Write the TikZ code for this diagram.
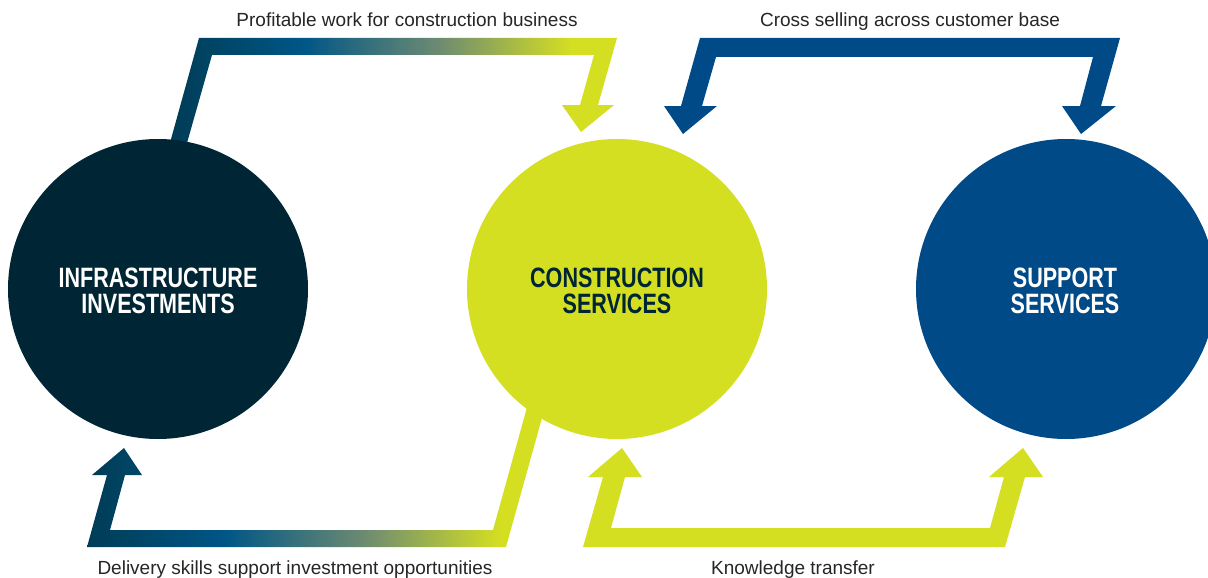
\documentclass[tikz,border=0pt]{standalone}
\usepackage{fontspec}
\setmainfont{Liberation Sans}
\newfontfamily\condbold[FakeStretch=0.77]{Liberation Sans Bold}
\definecolor{cInfra}{HTML}{002534}
\definecolor{cLime}{HTML}{D5DF22}
\definecolor{cNavy}{HTML}{004A87}
\definecolor{cTeal}{HTML}{003C55}
\definecolor{cMid}{HTML}{005686}
\definecolor{cGrey}{HTML}{6C8A72}
\definecolor{cText}{HTML}{262626}
\pgfdeclarehorizontalshading{flow}{100bp}{color(0bp)=(cTeal); color(25bp)=(cTeal); color(40bp)=(cMid); color(55bp)=(cGrey); color(70bp)=(cLime); color(100bp)=(cLime)}
\tikzset{
  hub/.style={circle, minimum size=300pt, inner sep=0pt},
  hubtext/.style={inner sep=0pt, align=center,
    font=\condbold\fontsize{28}{26}\selectfont},
  caption/.style={font=\fontsize{19}{22}\selectfont, text=cText, anchor=base, inner sep=0pt},
  flowarrow/.style={shading=flow, draw=none},
}
\begin{document}
\begin{tikzpicture}[x=1pt,y=-1pt]
\useasboundingbox (0,0) rectangle (1208,578);
\clip (0,0) rectangle (1208,578);
\fill[white] (0,0) rectangle (1208,578);

% top-left gradient arrow: infrastructure -> construction
\shade[flowarrow] (168,150) -- (199,38) -- (617,38) -- (598,105) -- (614,105)
  -- (581,132) -- (562,105) -- (580,105) -- (594,55) -- (212,55) -- (185,150) -- cycle;

% bottom gradient arrow: construction -> infrastructure
\shade[flowarrow] (547,400) -- (506,547) -- (87,547) -- (107,475) -- (92,475)
  -- (124,448) -- (142,475) -- (125,475) -- (110,530) -- (493,530) -- (529,400) -- cycle;

% top-right double arrow (navy)
\fill[cNavy] (681,106) -- (700,38) -- (1120,38) -- (1101,106) -- (1116,106)
  -- (1081,134) -- (1062,106) -- (1080,106) -- (1093,57) -- (716,57)
  -- (702,106) -- (717,106) -- (683,134) -- (664,106) -- cycle;

% bottom-right double arrow (lime)
\fill[cLime] (583,547) -- (1005,547) -- (1025,477) -- (1043,477) -- (1023,448)
  -- (989,477) -- (1004,477) -- (990,528) -- (611,528) -- (625,477)
  -- (642,477) -- (622,448) -- (588,477) -- (603,477) -- cycle;

% hubs
\node[hub, fill=cInfra] (infra) at (158,289) {};
\node[hub, fill=cLime] (constr) at (617,289) {};
\node[hub, fill=cNavy] (support) at (1066,289) {};
\node[hubtext, text=white] (infraT) at (158,291) {INFRASTRUCTURE\\INVESTMENTS};
\node[hubtext, text=cInfra] (constrT) at (617,291) {CONSTRUCTION\\SERVICES};
\node[hubtext, text=white] (supportT) at (1065,291) {SUPPORT\\SERVICES};

% captions
\node[caption] (c1) at (407,27) {Profitable work for construction business};
\node[caption] (c2) at (910,27) {Cross selling across customer base};
\node[caption] (c3) at (295,574) {Delivery skills support investment opportunities};
\node[caption] (c4) at (793,574) {Knowledge transfer};
\end{tikzpicture}
\end{document}
